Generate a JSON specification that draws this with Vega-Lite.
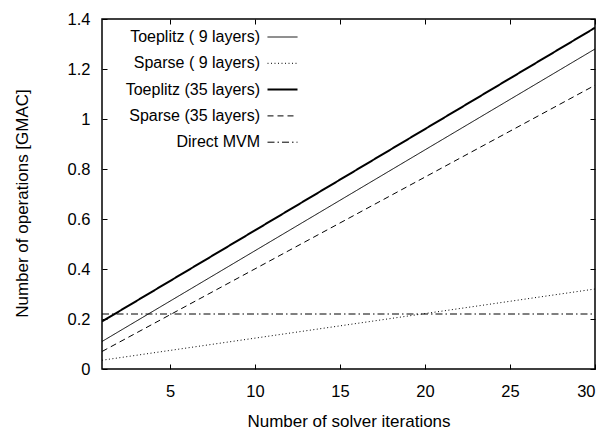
{
  "$schema": "https://vega.github.io/schema/vega-lite/v6.json",
  "width": 493,
  "height": 350,
  "autosize": {"type": "none"},
  "padding": {"left": 102, "top": 19, "right": 12, "bottom": 63},
  "background": "white",
  "config": {
    "font": "Liberation Sans",
    "view": {"stroke": "black", "strokeWidth": 1.5},
    "axis": {
      "domain": false,
      "grid": false,
      "tickColor": "black",
      "tickWidth": 1,
      "tickSize": -5,
      "labelColor": "black",
      "labelFont": "Liberation Sans",
      "labelFontSize": 16.5,
      "titleColor": "black",
      "titleFont": "Liberation Sans",
      "titleFontWeight": "normal"
    }
  },
  "data": {
    "values": [
      {"series": "Toeplitz ( 9 layers)", "iter": 1, "ops": 0.11},
      {"series": "Toeplitz ( 9 layers)", "iter": 30, "ops": 1.28},
      {"series": "Sparse ( 9 layers)", "iter": 1, "ops": 0.035},
      {"series": "Sparse ( 9 layers)", "iter": 30, "ops": 0.32},
      {"series": "Toeplitz (35 layers)", "iter": 1, "ops": 0.19},
      {"series": "Toeplitz (35 layers)", "iter": 30, "ops": 1.365},
      {"series": "Sparse (35 layers)", "iter": 1, "ops": 0.07},
      {"series": "Sparse (35 layers)", "iter": 30, "ops": 1.135},
      {"series": "Direct MVM", "iter": 1, "ops": 0.22},
      {"series": "Direct MVM", "iter": 30, "ops": 0.22}
    ]
  },
  "layer": [
    {
      "mark": {"type": "line", "color": "black", "clip": true},
      "encoding": {
        "x": {
          "field": "iter", "type": "quantitative",
          "scale": {"domain": [1, 30], "nice": false, "zero": false},
          "axis": {"orient": "bottom", "values": [5, 10, 15, 20, 25, 30], "labelPadding": 19, "title": "Number of solver iterations", "titleFontSize": 17, "titlePadding": 14}
        },
        "y": {
          "field": "ops", "type": "quantitative",
          "scale": {"domain": [0, 1.4], "nice": false},
          "axis": {"orient": "left", "values": [0, 0.2, 0.4, 0.6, 0.8, 1, 1.2, 1.4], "format": ".1~f", "labelPadding": 17, "title": "Number of operations [GMAC]", "titleFontSize": 17, "titlePadding": 36, "titleY": 184}
        },
        "strokeDash": {
          "field": "series", "type": "nominal",
          "scale": {
            "domain": ["Toeplitz ( 9 layers)", "Sparse ( 9 layers)", "Toeplitz (35 layers)", "Sparse (35 layers)", "Direct MVM"],
            "range": [[1, 0], [1, 2.5], [1, 0], [6, 4], [7, 3, 1.5, 3]]
          },
          "legend": {
            "orient": "none",
            "legendX": 172.5,
            "legendY": 10,
            "title": null,
            "padding": 0,
            "symbolType": "stroke",
            "symbolSize": 841,
            "symbolStrokeColor": "black",
            "labelFont": "Liberation Sans",
            "labelFontSize": 16,
            "labelColor": "black",
            "labelAlign": "right",
            "labelOffset": -30.5,
            "labelLimit": 400,
            "rowPadding": 10.3,
            "encode": {
              "symbols": {
                "enter": {"strokeWidth": {"signal": "datum.value === 'Toeplitz (35 layers)' ? 2 : 1"}, "size": {"value": 900}},
                "update": {"strokeWidth": {"signal": "datum.value === 'Toeplitz (35 layers)' ? 2 : 1"}, "size": {"value": 900}}
              }
            }
          }
        },
        "strokeWidth": {
          "condition": {"test": "datum.series === 'Toeplitz (35 layers)'", "value": 2},
          "value": 1
        }
      }
    },
    {
      "mark": {"type": "line", "opacity": 0},
      "encoding": {
        "x": {
          "field": "iter", "type": "quantitative",
          "axis": {"orient": "top", "values": [5, 10, 15, 20, 25, 30], "labels": false, "title": null}
        },
        "y": {
          "field": "ops", "type": "quantitative",
          "axis": {"orient": "right", "values": [0, 0.2, 0.4, 0.6, 0.8, 1, 1.2, 1.4], "labels": false, "title": null}
        },
        "detail": {"field": "series", "type": "nominal"}
      }
    }
  ],
  "resolve": {"axis": {"x": "independent", "y": "independent"}}
}
